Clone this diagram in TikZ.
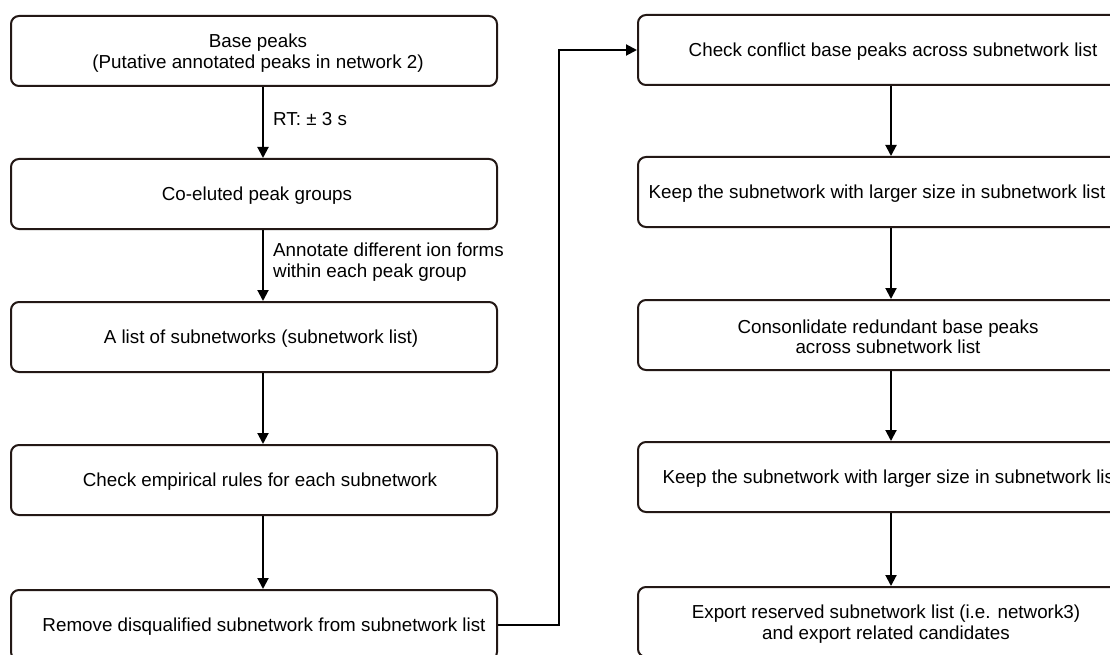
\documentclass[tikz,border=0pt]{standalone}
\usepackage{fontspec}
\setmainfont{Liberation Sans}
\usetikzlibrary{arrows.meta}
\definecolor{boxline}{HTML}{231815}
\tikzset{
  stepbox/.style={draw=boxline, line width=2pt, rounded corners=8pt,
    minimum height=70pt, inner sep=0pt, fill=white},
  leftbox/.style={stepbox, minimum width=486pt},
  rightbox/.style={stepbox, minimum width=502pt},
  txt/.style={font=\fontsize{18.8}{20.5}\selectfont, align=center, inner sep=0pt, yshift=-2pt},
  note/.style={font=\fontsize{18.8}{21}\selectfont, align=left, inner sep=0pt, anchor=west},
  arr/.style={line width=2pt, -{Triangle[length=11pt,width=11pt]}},
}
\begin{document}
\begin{tikzpicture}[x=1pt,y=-1pt]
  \clip (0,0) rectangle (1110,655);
  \fill[white] (0,0) rectangle (1110,655);

  % connector columns
  \coordinate (colL) at (263,0);
  \coordinate (colR) at (891,0);
  \coordinate (jog) at (559,0);

  % left column
  \node[leftbox, label={[txt,xshift=4pt]center:Base peaks\\(Putative annotated peaks in network 2)}] (L1) at (254,51) {};
  \node[leftbox, label={[txt,xshift=3pt]center:Co-eluted peak groups}] (L2) at (254,194) {};
  \node[leftbox, label={[txt,xshift=7pt]center:A list of subnetworks (subnetwork list)}] (L3) at (254,337) {};
  \node[leftbox, label={[txt,xshift=6pt]center:Check empirical rules for each subnetwork}] (L4) at (254,480) {};
  \node[leftbox, label={[txt,xshift=10pt]center:Remove disqualified subnetwork from subnetwork list}] (L5) at (254,625) {};

  % right column
  \node[rightbox, label={[txt,xshift=4pt]center:Check conflict base peaks across subnetwork list}] (R1) at (889,50) {};
  \node[rightbox, label={[txt,xshift=-12pt]center:Keep the subnetwork with larger size in subnetwork list}] (R2) at (889,192) {};
  \node[rightbox, label={[txt,xshift=-1pt]center:Consonlidate redundant base peaks\\across subnetwork list}] (R3) at (889,335) {};
  \node[rightbox, label={[txt,xshift=2pt]center:Keep the subnetwork with larger size in subnetwork list}] (R4) at (889,477) {};
  \node[rightbox, label={[txt,xshift=-3pt]center:Export reserved subnetwork list (i.e. network3)\\and export related candidates}] (R5) at (889,622) {};

  % left column arrows
  \draw[arr] (L1.south -| colL) -- (L2.north -| colL);
  \draw[arr] (L2.south -| colL) -- (L3.north -| colL);
  \draw[arr] (L3.south -| colL) -- (L4.north -| colL);
  \draw[arr] (L4.south -| colL) -- (L5.north -| colL);

  % edge notes
  \node[note] (n1) at (273,119) {RT: ± 3 s};
  \node[note] (n2) at (273,262) {Annotate different ion forms\\within each peak group};

  % link between the columns
  \draw[arr, rounded corners=0pt] (L5.east) -- (L5.east -| jog) -- (R1.west -| jog) -- (R1.west);

  % right column arrows
  \draw[arr] (R1.south -| colR) -- (R2.north -| colR);
  \draw[arr] (R2.south -| colR) -- (R3.north -| colR);
  \draw[arr] (R3.south -| colR) -- (R4.north -| colR);
  \draw[arr] (R4.south -| colR) -- (R5.north -| colR);
\end{tikzpicture}
\end{document}
